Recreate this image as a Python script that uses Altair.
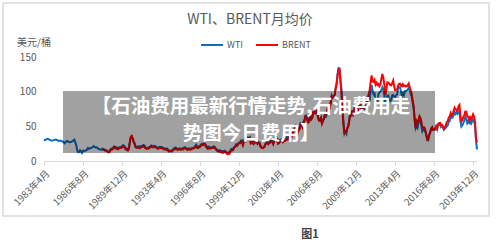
import altair as alt
import pandas as pd

# Monthly average spot prices, US$ per barrel
WTI_START = "1983-04-01"
WTI_PRICES = [
    30.6, 30.0, 31.0, 31.7, 31.9, 31.1, 30.4, 29.8, 29.2,  # 1983 Apr-Dec
    29.7, 30.1, 30.8, 30.6, 30.5, 29.8, 28.7, 29.3, 29.3, 28.8, 28.1, 27.0,  # 1984
    25.6, 27.3, 28.2, 28.8, 27.6, 27.1, 27.3, 27.8, 28.3, 29.5, 30.8, 27.2,  # 1985
    22.9, 15.5, 12.6, 12.8, 15.4, 13.5, 11.6, 15.1, 14.9, 14.9, 15.2, 16.1,  # 1986
    18.7, 17.7, 18.3, 18.6, 19.4, 20.0, 21.4, 20.3, 19.5, 19.8, 18.9, 17.3,  # 1987
    17.1, 16.7, 16.2, 17.9, 17.4, 16.5, 15.5, 15.5, 14.5, 13.8, 14.0, 16.3,  # 1988
    18.0, 17.6, 19.6, 21.0, 20.0, 20.0, 19.6, 18.5, 19.6, 20.1, 19.8, 21.1,  # 1989
    22.9, 22.1, 20.4, 18.4, 18.2, 16.9, 18.6, 27.2, 33.7, 35.9, 32.3, 27.3,  # 1990
    25.2, 20.5, 19.9, 20.8, 21.2, 20.2, 21.4, 21.7, 21.9, 23.2, 22.5, 19.5,  # 1991
    18.8, 19.0, 18.9, 20.2, 20.9, 22.4, 21.8, 21.4, 21.9, 21.7, 20.3, 19.4,  # 1992
    19.1, 20.1, 20.3, 20.3, 19.9, 19.1, 17.9, 18.0, 17.5, 18.2, 16.7, 14.5,  # 1993
    15.0, 14.8, 14.7, 16.4, 17.9, 19.1, 19.6, 18.5, 17.5, 17.7, 18.1, 17.2,  # 1994
    18.0, 18.5, 18.6, 19.9, 19.7, 18.5, 17.3, 17.9, 18.0, 17.4, 18.0, 19.0,  # 1995
    18.9, 19.1, 21.3, 23.5, 21.2, 20.4, 21.3, 21.9, 23.9, 24.9, 23.7, 25.4,  # 1996
    25.2, 22.2, 21.0, 19.7, 20.8, 19.2, 19.6, 19.9, 19.8, 21.3, 20.2, 18.3,  # 1997
    16.7, 16.1, 15.0, 15.4, 14.9, 13.7, 14.2, 13.4, 15.0, 14.4, 12.9, 11.3,  # 1998
    12.5, 12.0, 14.7, 17.3, 17.8, 17.9, 20.1, 21.3, 23.9, 22.6, 25.0, 26.1,  # 1999
    27.2, 29.4, 29.9, 25.7, 28.8, 31.8, 29.7, 31.2, 33.9, 33.1, 34.4, 28.5,  # 2000
    29.6, 29.6, 27.2, 27.4, 28.6, 27.6, 26.4, 27.4, 26.2, 22.2, 19.7, 19.3,  # 2001
    19.7, 20.7, 24.4, 26.3, 27.0, 25.5, 27.0, 28.4, 29.7, 28.9, 26.3, 29.4,  # 2002
    32.9, 35.9, 33.6, 28.3, 28.1, 30.7, 30.8, 31.6, 28.3, 30.3, 31.1, 32.1,  # 2003
    34.3, 34.7, 36.7, 36.7, 40.3, 38.0, 40.7, 44.9, 45.9, 53.1, 48.5, 43.3,  # 2004
    46.8, 48.0, 54.3, 53.0, 49.8, 56.3, 58.7, 65.0, 65.6, 62.3, 58.3, 59.4,  # 2005
    65.5, 61.6, 62.9, 69.7, 70.9, 70.9, 74.4, 73.0, 63.8, 58.9, 59.1, 62.0,  # 2006
    54.5, 59.3, 60.4, 64.0, 63.5, 67.5, 74.1, 72.4, 79.9, 86.0, 94.6, 91.7,  # 2007
    93.0, 95.4, 105.5, 112.6, 125.4, 133.9, 133.4, 116.7, 104.1, 76.6, 57.3, 41.1,  # 2008
    41.7, 39.1, 47.9, 49.7, 59.0, 69.6, 64.2, 71.1, 69.4, 75.7, 78.0, 74.5,  # 2009
    78.3, 76.4, 81.2, 84.3, 73.7, 75.3, 76.3, 76.6, 75.2, 81.9, 84.3, 89.2,  # 2010
    89.2, 88.6, 102.9, 109.5, 100.9, 96.3, 97.3, 86.3, 85.5, 86.3, 97.2, 98.6,  # 2011
    100.3, 102.2, 106.2, 103.3, 94.7, 82.3, 87.9, 94.1, 94.5, 89.5, 86.5, 87.9,  # 2012
    94.8, 95.3, 92.9, 92.0, 94.5, 95.8, 104.6, 106.6, 106.3, 100.5, 93.9, 97.6,  # 2013
    94.6, 100.8, 100.8, 102.1, 102.2, 105.8, 103.6, 96.5, 93.2, 84.4, 75.8, 59.3,  # 2014
    47.2, 50.6, 47.8, 54.5, 59.3, 59.8, 50.9, 42.9, 45.5, 46.2, 42.4, 37.2,  # 2015
    31.7, 30.3, 37.5, 40.8, 46.7, 48.8, 44.7, 44.7, 45.2, 49.8, 45.7, 52.0,  # 2016
    52.5, 53.5, 49.3, 51.1, 48.5, 45.2, 46.6, 48.0, 49.8, 51.6, 56.6, 57.9,  # 2017
    63.7, 62.2, 62.7, 66.3, 70.0, 67.9, 71.0, 68.1, 70.2, 70.8, 57.0, 49.5,  # 2018
    51.4, 55.0, 58.2, 63.9, 60.8, 54.7, 57.4, 54.8, 57.0, 54.0, 57.0, 59.9,  # 2019
    57.5, 50.5, 29.2, 16.6,  # 2020 Jan-Apr
]

BRENT_START = "1988-04-01"
BRENT_PRICES = [
    16.5, 16.2, 15.5, 14.9, 14.8, 13.4, 12.5, 12.8, 14.9,  # 1988 Apr-Dec
    16.6, 16.5, 18.1, 20.4, 18.6, 17.5, 17.9, 17.0, 18.3, 19.2, 18.9, 20.2,  # 1989
    21.3, 19.8, 18.4, 16.6, 16.3, 15.1, 17.2, 27.2, 34.9, 36.0, 32.0, 27.0,  # 1990
    23.6, 19.5, 19.1, 19.2, 19.2, 18.3, 19.4, 19.7, 20.2, 21.8, 20.7, 18.3,  # 1991
    17.6, 18.2, 17.6, 18.8, 19.6, 21.1, 20.2, 19.6, 20.3, 20.1, 19.1, 18.3,  # 1992
    17.6, 18.6, 18.6, 18.7, 18.5, 17.7, 16.8, 16.9, 16.2, 16.9, 15.4, 13.7,  # 1993
    14.6, 14.0, 13.5, 15.0, 16.4, 16.9, 17.7, 16.8, 15.9, 16.5, 17.4, 16.3,  # 1994
    17.1, 17.2, 16.9, 18.6, 18.4, 17.3, 16.0, 16.5, 16.8, 16.2, 17.0, 18.0,  # 1995
    18.1, 18.4, 19.9, 21.3, 19.1, 18.6, 19.7, 20.3, 22.5, 24.0, 23.0, 23.9,  # 1996
    23.5, 20.9, 19.1, 17.6, 19.0, 17.6, 18.5, 18.6, 18.6, 20.2, 19.2, 17.1,  # 1997
    15.4, 14.1, 13.2, 13.3, 14.3, 12.1, 12.0, 11.9, 13.4, 12.7, 11.0, 9.8,  # 1998
    11.1, 10.3, 12.5, 15.3, 15.3, 15.9, 19.0, 20.3, 22.5, 22.0, 24.6, 25.5,  # 1999
    25.5, 27.8, 27.3, 22.8, 27.6, 29.7, 28.5, 30.1, 32.8, 30.9, 32.5, 25.1,  # 2000
    25.6, 27.5, 24.5, 25.7, 28.1, 27.9, 24.5, 25.8, 25.7, 20.5, 18.9, 18.6,  # 2001
    19.4, 20.3, 24.0, 26.0, 25.7, 24.1, 25.7, 26.6, 28.3, 27.5, 24.2, 28.3,  # 2002
    31.2, 32.8, 30.3, 25.0, 25.8, 27.6, 28.4, 29.8, 27.1, 29.6, 28.8, 29.8,  # 2003
    31.2, 30.9, 33.8, 33.4, 37.6, 35.2, 38.2, 42.7, 43.2, 49.8, 43.1, 39.7,  # 2004
    44.3, 45.5, 53.1, 51.9, 48.7, 54.3, 57.5, 64.1, 62.9, 58.5, 55.4, 56.9,  # 2005
    63.0, 60.0, 62.0, 70.3, 69.8, 68.7, 73.7, 73.2, 62.0, 58.0, 58.6, 62.0,  # 2006
    53.7, 57.6, 62.1, 67.5, 67.2, 71.3, 77.2, 70.8, 77.1, 82.3, 92.5, 91.5,  # 2007
    92.2, 95.0, 103.6, 109.1, 122.8, 132.3, 132.7, 113.2, 97.2, 71.6, 52.5, 40.0,  # 2008
    43.4, 43.3, 46.5, 50.2, 57.3, 68.6, 64.4, 72.5, 67.7, 73.2, 77.0, 74.7,  # 2009
    76.2, 73.8, 78.8, 84.8, 75.9, 75.0, 75.6, 77.0, 77.8, 82.9, 85.5, 91.5,  # 2010
    96.5, 103.7, 114.6, 123.3, 114.5, 113.9, 116.7, 110.2, 112.8, 109.6, 110.8, 107.9,  # 2011
    110.7, 119.3, 125.5, 119.8, 110.3, 95.2, 102.6, 113.4, 113.0, 111.5, 109.5, 109.2,  # 2012
    112.3, 116.1, 108.5, 102.3, 102.6, 102.9, 107.9, 111.3, 111.6, 109.1, 107.8, 110.8,  # 2013
    108.1, 108.9, 107.5, 107.8, 109.7, 111.9, 106.8, 101.6, 97.1, 87.4, 79.4, 62.3,  # 2014
    47.8, 58.1, 55.9, 59.5, 64.6, 61.7, 56.8, 48.2, 48.5, 48.3, 44.3, 38.0,  # 2015
    30.7, 32.2, 38.2, 41.6, 46.7, 48.3, 44.9, 45.8, 46.6, 49.5, 44.8, 53.3,  # 2016
    54.6, 54.9, 51.6, 52.3, 50.3, 46.4, 48.5, 51.7, 56.2, 57.5, 62.7, 64.4,  # 2017
    69.1, 65.2, 66.0, 72.1, 76.9, 74.4, 74.3, 72.5, 78.9, 81.0, 64.8, 57.4,  # 2018
    59.4, 64.0, 66.1, 71.2, 71.1, 64.2, 63.9, 59.0, 62.8, 59.7, 63.2, 67.3,  # 2019
    63.7, 55.7, 32.0, 26.6,  # 2020 Jan-Apr
]

SERIES = ["WTI", "BRENT"]
COLORS = ["#0a6fc2", "#ff0000"]
TICK_MONTHS = [(1983, 4), (1986, 8), (1989, 12), (1993, 4), (1996, 8), (1999, 12),
               (2003, 4), (2006, 8), (2009, 12), (2013, 4), (2016, 8), (2019, 12)]
Y_TICKS = [0, 50, 100, 150]
TITLE = "WTI、BRENT月均价"
UNIT = "美元/桶"
BANNER_LINES = ["【石油费用最新行情走势,石油费用走", "势图今日费用】"]
CAPTION = "图1"

FONT = "Noto Sans CJK SC"
GREY = "#595959"


def monthly(name, start, values):
    dates = pd.date_range(start, periods=len(values), freq="MS")
    return pd.DataFrame({"date": dates.strftime("%Y-%m-%d"), "price": values, "series": name})


prices = pd.concat([monthly("WTI", WTI_START, WTI_PRICES),
                    monthly("BRENT", BRENT_START, BRENT_PRICES)], ignore_index=True)
single = pd.DataFrame({"k": [0]})

x_enc = alt.X(
    "date:T",
    scale=alt.Scale(type="utc",
                    domain=[alt.DateTime(year=1983, month=4, date=1, utc=True),
                            alt.DateTime(year=2020, month=4, date=1, utc=True)]),
    axis=alt.Axis(
        values=[alt.DateTime(year=y, month=m, date=1, utc=True) for y, m in TICK_MONTHS],
        labelExpr="utcFormat(datum.value, '%Y') + '年' + (utcmonth(datum.value) + 1) + '月'",
        labelAngle=-45, labelFontSize=9.5, labelColor=GREY, labelFont=FONT,
        labelOverlap=False, labelPadding=3,
        domainColor="#d9d9d9", tickColor="#d9d9d9", tickSize=4, grid=False, title=None,
    ),
)
y_enc = alt.Y(
    "price:Q",
    scale=alt.Scale(domain=[0, 150], nice=False),
    axis=alt.Axis(values=Y_TICKS, domain=False, ticks=False, grid=False, title=None,
                  labelFontSize=10, labelColor=GREY, labelFont=FONT, labelPadding=8),
)
color_enc = alt.Color(
    "series:N",
    scale=alt.Scale(domain=SERIES, range=COLORS),
    legend=alt.Legend(orient="none", legendX=156, legendY=-24, direction="horizontal",
                      title=None, symbolType="stroke", symbolSize=484, symbolStrokeWidth=2,
                      labelFontSize=9, labelColor=GREY, labelFont=FONT, labelOffset=3,
                      columnPadding=9),
)

base = alt.Chart(prices).mark_line(strokeWidth=2).encode(x=x_enc, y=y_enc, color=color_enc)
wti_line = base.transform_filter(alt.datum.series == "WTI")
brent_line = base.transform_filter(alt.datum.series == "BRENT")

frame = alt.Chart(single).mark_rect(fill="transparent", stroke="#d9d9d9", strokeWidth=1.5).encode(
    x=alt.value(-41), x2=alt.value(445), y=alt.value(-54), y2=alt.value(159))

title = alt.Chart(single).mark_text(text=TITLE, font=FONT, fontSize=14, color=GREY,
                                    align="center", baseline="middle").encode(
    x=alt.value(206), y=alt.value(-37))

unit = alt.Chart(single).mark_text(text=UNIT, font=FONT, fontSize=10, color=GREY,
                                   align="left", baseline="middle").encode(
    x=alt.value(-27), y=alt.value(-14))

# translucent banner laid over the plot, with its two lines of white text
banner = alt.Chart(single).mark_rect(fill="black", opacity=0.37).encode(
    x=alt.value(19), x2=alt.value(391), y=alt.value(34), y2=alt.value(96))

banner_text = [
    alt.Chart(single).mark_text(text=line, font=FONT, fontSize=19.5, fontWeight="bold",
                                color="white", align="center", baseline="middle").encode(
        x=alt.value(207), y=alt.value(yy))
    for line, yy in zip(BANNER_LINES, [50, 77])
]

caption = alt.Chart(single).mark_text(text=CAPTION, font=FONT, fontSize=11, fontWeight="bold",
                                      color="#404040", align="center", baseline="middle").encode(
    x=alt.value(266), y=alt.value(178))

chart = alt.layer(frame, wti_line, brent_line, banner, *banner_text, title, unit, caption).properties(
    width=433, height=104,
    padding={"left": 44, "top": 57, "right": 23, "bottom": 85},
    autosize=alt.AutoSizeParams(type="none"),
    background="white",
).configure_view(stroke=None)

chart.save("out.html", embed_options={"renderer": "svg", "actions": False})
